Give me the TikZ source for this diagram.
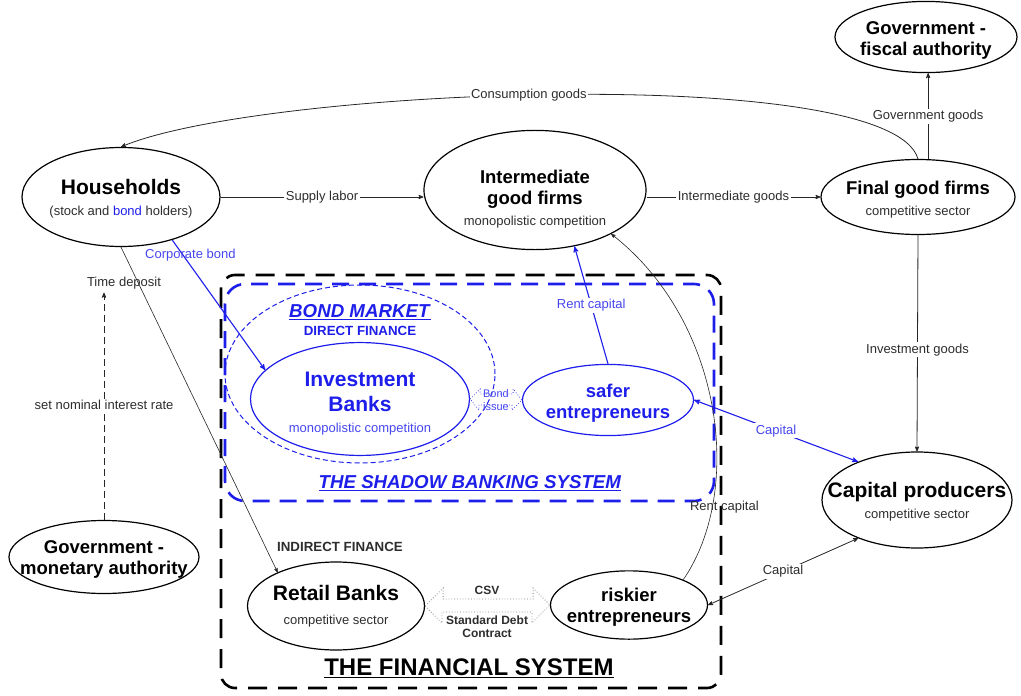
\documentclass[tikz,border=0pt]{standalone}
\usepackage{fontspec}
\setmainfont{Liberation Sans}
\usetikzlibrary{arrows,shapes.geometric}

\definecolor{mblue}{RGB}{30,30,235}
\definecolor{lblue}{RGB}{70,70,240}
\definecolor{dgray}{RGB}{45,45,45}

\newcommand{\nt}[2][23pt]{\makebox[0pt]{\begin{tabular}{@{}c@{}}\rule{0pt}{#1}#2\end{tabular}}}
\newcommand{\titf}{\bfseries\fontsize{18.5}{21}\selectfont}
\newcommand{\bigf}{\bfseries\fontsize{21}{24}\selectfont}
\newcommand{\subf}{\fontsize{13}{16}\selectfont\color{dgray}}

\begin{document}
\begin{tikzpicture}[x=1pt,y=-1pt,->,>=stealth',
    ent/.style={ellipse,draw,line width=1.2pt,inner sep=0pt,font=\fontsize{13}{21}\selectfont},
    lnk/.style={draw=black!85,line width=0.8pt},
    blnk/.style={draw=mblue,line width=1.1pt},
    lbl/.style={font=\fontsize{13}{15}\selectfont,text=dgray,fill=white,inner sep=1.5pt},
    blbl/.style={lbl,text=lblue},
    hdr/.style={font=\bfseries\fontsize{18.7}{22}\selectfont},
    shdr/.style={font=\bfseries\fontsize{13.3}{15}\selectfont},
    fsys/.style={-,draw,line width=2.6pt,dash pattern=on 19pt off 11pt,rounded corners=14pt},
    sbank/.style={-,draw=mblue,line width=2.6pt,dash pattern=on 17pt off 10pt,rounded corners=20pt},
    darrow/.style={-,draw=gray,dotted,line width=0.8pt}]
  \useasboundingbox (0,0) rectangle (1021,696);

  % frames
  \draw[fsys]  (221,275) rectangle (721,688);
  \draw[sbank] (225,284) rectangle (714,501);

  % agents
  \node[ent, minimum width=182pt, minimum height=71pt]  (gf)  at (926,37)  {\nt{\titf Government -\\ \titf fiscal authority}};
  \node[ent, minimum width=198pt, minimum height=99pt]  (hh)  at (121,197) {\nt{\bigf Households\\ \subf (stock and \textcolor{mblue}{bond} holders)}};
  \node[ent, minimum width=222pt, minimum height=106pt] (igf) at (535,190) {\nt[36pt]{\titf Intermediate\\ \titf good firms\\ \subf monopolistic competition}};
  \node[ent, minimum width=194pt, minimum height=75pt]  (fgf) at (918,197) {\nt{\titf Final good firms\\ \subf competitive sector}};
  \node[ent, minimum width=190pt, minimum height=96pt]  (cp)  at (917,500) {\nt{\bigf Capital producers\\ \subf competitive sector}};
  \node[ent, minimum width=190pt, minimum height=73pt]  (gm)  at (104,557) {\nt[21pt]{\titf Government -\\ \titf monetary authority}};
  \node[ent, minimum width=177pt, minimum height=88pt]  (rb)  at (336,606) {\nt[20pt]{\bigf Retail Banks\\[3pt] \subf competitive sector}};
  \node[ent, minimum width=157pt, minimum height=56pt]  (re)  at (629,605) {\nt[21pt]{\titf riskier\\ \titf entrepreneurs}};
  \node[ent, mblue, minimum width=219pt, minimum height=101pt] (ib) at (360,399) {\nt[27pt]{\bigf Investment\\[4pt] \bigf Banks\\ \subf\color{lblue} monopolistic competition}};
  \node[ent, mblue, minimum width=171pt, minimum height=64pt]  (se) at (608,400) {\nt{\titf safer\\ \titf entrepreneurs}};
  \node[ent, mblue, line width=1pt, dash pattern=on 5pt off 3pt, minimum width=270pt, minimum height=178pt] (bm) at (360,374) {};

  % titles
  \node[hdr, mblue]  (bmt) at (360,312) {\underline{\textit{BOND MARKET}}};
  \node[shdr, mblue] (dft) at (360,331) {DIRECT FINANCE};
  \node[hdr, mblue]  (sbt) at (470,483) {\underline{\textit{THE SHADOW BANKING SYSTEM}}};
  \node[shdr, text=dgray] (ift) at (340,547) {INDIRECT FINANCE};
  \node[font=\bfseries\fontsize{24}{28}\selectfont] (fst) at (469,668) {\underline{THE FINANCIAL SYSTEM}};
  \node[lbl, fill=none] (td) at (124,283) {Time deposit};

  % flows
  \draw[lnk] (fgf.north) .. controls (890,62) and (260,88) .. node[lbl, pos=0.53] {Consumption goods} (hh.north);
  \draw[lnk] (fgf.75) -- node[lbl] {Government goods} (fgf.75 |- gf.south);
  \draw[lnk] (hh.east) -- node[lbl] {Supply labor} (hh.east -| igf.west);
  \draw[lnk] (igf.east |- fgf.west) -- node[lbl] {Intermediate goods} (fgf.west);
  \draw[lnk] (fgf.south) -- node[lbl, pos=0.53] {Investment goods} (cp.north);
  \draw[blnk] (hh.320) -- node[blbl, fill=none, pos=0.12, xshift=7pt] {Corporate bond} (ib.163);
  \draw[lnk, line width=0.6pt] (hh.south) -- (rb.150);
  \draw[lnk, dash pattern=on 7pt off 4pt, shorten >=2pt] (gm.north) -- node[lbl] {set nominal interest rate} (gm.north |- td.south);
  \draw[blnk] (se.north) -- node[blbl] {Rent capital} (igf.305);
  \draw[lnk, line width=0.6pt] (re.25) .. controls (745,490) and (722,320) .. node[lbl, fill=none, pos=0.23, xshift=12pt] {Rent capital} (igf.330);
  \draw[blnk, <->] (se.east) -- node[blbl] {Capital} (cp.147);
  \draw[lnk, <->] (re.east) -- node[lbl] {Capital} (cp.213);

  % contracts
  \draw[darrow] (rb.east) -- ++(18,-18) -- ++(0,11) -- ++(90,0) -- ++(0,-11) -- (re.west)
                -- ++(-18,18) -- ++(0,-11) -- ++(-90,0) -- ++(0,11) -- cycle;
  \node[font=\bfseries\fontsize{12}{14}\selectfont, text=dgray, align=center] (csv) at (487,590) {CSV};
  \node[font=\bfseries\fontsize{12}{13}\selectfont, text=dgray, align=center] (sdc) at (487,627) {Standard Debt\\Contract};
  \draw[darrow, draw=lblue] (ib.east) -- ++(10,-10) -- ++(0,5) -- ++(33,0) -- ++(0,-5) -- (se.west)
                -- ++(-10,10) -- ++(0,-5) -- ++(-33,0) -- ++(0,5) -- cycle;
  \node[font=\fontsize{11}{13}\selectfont, text=lblue, align=center] (bis) at (496,400) {Bond\\issue};
\end{tikzpicture}
\end{document}
